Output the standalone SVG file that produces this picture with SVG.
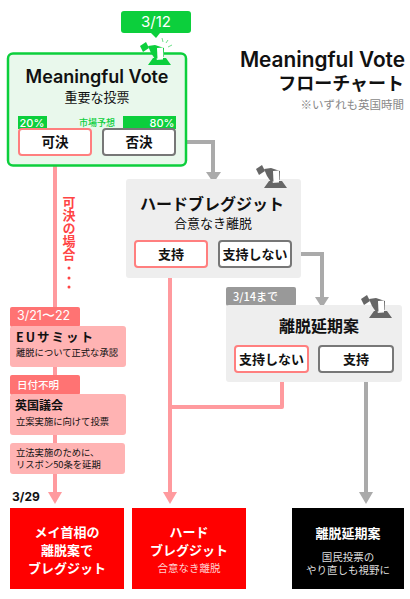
<svg xmlns="http://www.w3.org/2000/svg" width="410" height="599" viewBox="0 0 410 599">
<style>
text{font-family:"Noto Sans CJK JP","Noto Sans",sans-serif;text-anchor:middle;fill:#111}
.en{font-family:"Inter","Liberation Sans",sans-serif}
.b{font-weight:700}
.m{font-weight:500}
.s{font-weight:600}
.w{fill:#fff}
.l{text-anchor:start}
.pl{fill:none;stroke:#ff9a9e;stroke-width:4}
.gl{fill:none;stroke:#aaa;stroke-width:4}
.ya{fill:#ff9a9e}.ga{fill:#aaa}
.bp{fill:#fff;stroke:#ff7f7f;stroke-width:2}
.bg{fill:#fff;stroke:#777;stroke-width:2}
.pk{fill:#ffb3b3}
.gy{fill:#eee}
</style>
<defs>
<g id="vote"><path d="M-15 -11l6 -4 3 6 -6 4z"/><path d="M-7 -11l7 -1 9 3v9l-9 2 -4 -6z"/><path d="M2 -9l6 -.5 .5 11 -6 .5z" fill="#fff"/><path d="M-2 1h3l1 2 6 -.5v-1.500h3l5 7h-23z"/></g>
</defs>
<rect width="410" height="599" fill="#fff"/>
<g id="connectors">
<path class="gl" d="M176 142H213V172"/><path class="ga" d="M206 172h15l-7.500 11z"/>
<path class="gl" d="M292 254H322V298"/><path class="ga" d="M315 297h14l-7 11z"/>
<path class="gl" d="M366 372V493"/><path class="ga" d="M359 492h14l-7 12z"/>
<path class="pl" d="M55 156V492"/><path class="ya" d="M48 492h14l-7 12z"/>
<path class="pl" d="M170 267V492"/><path class="ya" d="M163 492h14l-7 12z"/>
<path class="pl" stroke-linejoin="round" d="M282 372V407H170"/>
</g>
<g id="node-date"><rect x="121" y="11" width="70" height="22" rx="3" fill="#0ccf3c"/><path d="M151 33h9l-4 5z" fill="#0ccf3c"/><text x="156" y="27" font-size="15" class="en w">3/12</text></g>
<g id="node-mv">
<rect x="8" y="53.500" width="178" height="112" rx="5" fill="#e9f8ec" stroke="#0ccf3c" stroke-width="2.500"/>
<use href="#vote" x="155" y="57" fill="#0ccf3c"/>
<path d="M162 38l1 4M168 40l-2 3M172 45l-4 2" stroke="#6fe08a" fill="none" stroke-width="1"/>
<text x="97" y="83" font-size="18" class="en s">Meaningful Vote</text>
<text x="97" y="102" font-size="13">重要な投票</text>
<rect x="18" y="116" width="29" height="13" fill="#0ccf3c"/><text x="32" y="127" font-size="11" class="en m w">20%</text>
<rect x="123" y="116" width="53" height="13" fill="#0ccf3c"/><text x="162" y="127" font-size="11" class="en m w">80%</text>
<text x="97" y="126" font-size="9" style="fill:#0ccf3c" class="m">市場予想</text>
<rect class="bp" x="19" y="129" width="72" height="26" rx="3"/><text x="55" y="147" font-size="13.500" class="b">可決</text>
<rect class="bg" x="103" y="129" width="72" height="26" rx="3"/><text x="139" y="147" font-size="13.500" class="b">否決</text>
</g>
<g id="node-title">
<text x="405" y="67" font-size="20.800" class="en s" style="text-anchor:end">Meaningful Vote</text>
<text x="404" y="90" font-size="18" class="b" style="text-anchor:end">フローチャート</text>
<text x="404" y="109" font-size="11.500" style="text-anchor:end;fill:#888">※いずれも英国時間</text>
</g>
<g id="node-hard">
<rect class="gy" x="126" y="179" width="175" height="99" rx="3"/>
<use href="#vote" x="271" y="180" fill="#666"/>
<text x="212" y="210" font-size="16" class="b">ハードブレグジット</text>
<text x="213" y="228" font-size="13">合意なき離脱</text>
<rect class="bp" x="135" y="241" width="72" height="26" rx="3"/><text x="171" y="259" font-size="13" class="b">支持</text>
<rect class="bg" x="219" y="241" width="72" height="26" rx="3"/><text x="255" y="259" font-size="13" class="b">支持しない</text>
</g>
<g id="node-delay">
<rect x="226" y="287" width="70" height="19" rx="2" fill="#999"/><text x="233" y="301" font-size="11" class="m w l">3/14まで</text>
<rect class="gy" x="226" y="305" width="176" height="77" rx="3"/>
<use href="#vote" x="376" y="310" fill="#666"/>
<text x="319" y="332" font-size="16" class="b">離脱延期案</text>
<rect class="bp" x="235" y="346" width="73" height="26" rx="3"/><text x="271.500" y="364" font-size="13" class="b">支持しない</text>
<rect class="bg" x="319" y="346" width="74" height="26" rx="3"/><text x="356" y="364" font-size="13" class="b">支持</text>
</g>
<g id="node-label"><text x="69" y="196" font-size="13" class="b" style="fill:#f44;writing-mode:vertical-rl;text-anchor:start">可決の場合</text><circle cx="69" cy="268" r="1.500" fill="#f44"/><circle cx="69" cy="278" r="1.500" fill="#f44"/><circle cx="69" cy="287" r="1.500" fill="#f44"/></g>
<g id="node-eu">
<rect x="10" y="307" width="70" height="20" rx="2" fill="#ff7373"/><text x="17" y="320" font-size="12.500" class="en w l">3/21〜22</text>
<rect class="pk" x="10" y="326" width="116" height="41" rx="3"/>
<text x="16" y="342" font-size="12.500" class="b l" letter-spacing="2">EUサミット</text>
<text x="16" y="356" font-size="9.300" class="l">離脱について正式な承認</text>
</g>
<g id="node-parl">
<rect x="10" y="375" width="70" height="20" rx="2" fill="#ff7373"/><text x="17" y="389" font-size="10.500" class="m w l">日付不明</text>
<rect class="pk" x="10" y="394" width="116" height="41" rx="3"/>
<text x="15" y="410" font-size="12" class="b l">英国議会</text>
<text x="16" y="425" font-size="9.300" class="l">立案実施に向けて投票</text>
</g>
<g id="node-delaylaw">
<rect class="pk" x="10" y="443" width="115" height="31" rx="3"/>
<text x="16" y="456" font-size="9.300" class="l">立法実施のために、</text>
<text x="16" y="468" font-size="9.300" class="l">リスボン50条を延期</text>
</g>
<text x="12" y="501" font-size="12" class="en b l">3/29</text>
<g id="node-may"><rect x="10" y="508" width="114" height="81" fill="#f00"/>
<text x="67" y="537" font-size="13" class="b w">メイ首相の</text><text x="67" y="555" font-size="13" class="b w">離脱案で</text><text x="67" y="573" font-size="13" class="b w">ブレグジット</text></g>
<g id="node-hardout"><rect x="132" y="508" width="114" height="81" fill="#f00"/>
<text x="189" y="537" font-size="13" class="b w">ハード</text><text x="189" y="555" font-size="13" class="b w">ブレグジット</text><text x="189" y="572" font-size="10.500" style="fill:#ffd0d0">合意なき離脱</text></g>
<g id="node-delayout"><rect x="292" y="508" width="112" height="81" fill="#000"/>
<text x="348" y="538" font-size="13" class="b w">離脱延期案</text><text x="348" y="561" font-size="10.500" style="fill:#ddd">国民投票の</text><text x="348" y="574" font-size="10.500" style="fill:#ddd">やり直しも視野に</text></g>
</svg>
